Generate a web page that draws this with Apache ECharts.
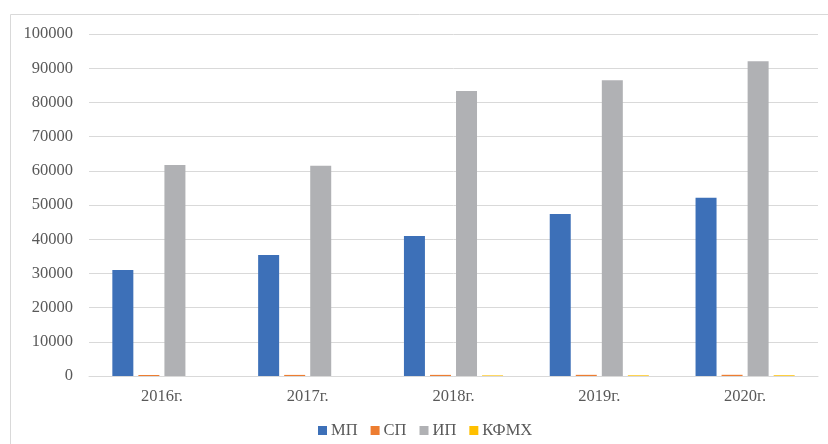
<!DOCTYPE html>
<html><head><meta charset="utf-8">
<script src="https://cdn.jsdelivr.net/npm/echarts@6/dist/echarts.min.js"></script>
<style>html,body{margin:0;padding:0;background:#fff}#c{width:828px;height:444px}</style>
</head><body><div id="c"></div>
<script>
const categories = ['2016г.', '2017г.', '2018г.', '2019г.', '2020г.'];
const seriesNames = ['МП', 'СП', 'ИП', 'КФМХ'];
const mp = [31000, 35400, 40900, 47400, 52100];
const sp = [300, 320, 330, 340, 350];
const ip = [61700, 61500, 83300, 86500, 92000];
const kfmh = [0, 0, 180, 200, 220];
const yTicks = [0, 100000, 10000];
const values = [mp, sp, ip, kfmh];

const chart = echarts.init(document.getElementById('c'), null, {renderer: 'canvas'});
const font = 'Liberation Serif';
chart.setOption({
  animation: false,
  color: ['#3d70b8', '#ed7d31', '#b0b1b4', '#ffc000'],
  graphic: [
    {type: 'line', shape: {x1: 10.5, y1: 14.5, x2: 828, y2: 14.5}, style: {stroke: '#d9d9d9', lineWidth: 1}, silent: true},
    {type: 'line', shape: {x1: 10.5, y1: 14.5, x2: 10.5, y2: 444}, style: {stroke: '#d9d9d9', lineWidth: 1}, silent: true}
  ],
  grid: {left: 89, right: 10, top: 34, bottom: 68},
  legend: {
    top: 417, left: 313, itemWidth: 9, itemHeight: 9, itemGap: 13,
    icon: 'rect',
    textStyle: {fontFamily: font, fontSize: 16.5, color: '#595959', padding: [0,0,0,-1]},
    data: seriesNames
  },
  xAxis: {
    type: 'category', data: categories,
    axisLine: {lineStyle: {color: '#d9d9d9'}},
    axisTick: {show: false},
    axisLabel: {fontFamily: font, fontSize: 16.5, color: '#595959', margin: 12}
  },
  yAxis: {
    type: 'value', min: yTicks[0], max: yTicks[1], interval: yTicks[2],
    axisLine: {show: false}, axisTick: {show: false},
    splitLine: {lineStyle: {color: '#d9d9d9'}},
    axisLabel: {fontFamily: font, fontSize: 16.5, color: '#595959', margin: 16, formatter: v => String(v)}
  },
  series: seriesNames.map((n, i) => ({
    name: n, type: 'bar', data: values[i], barWidth: 21, barGap: '24%'
  }))
});
</script></body></html>
